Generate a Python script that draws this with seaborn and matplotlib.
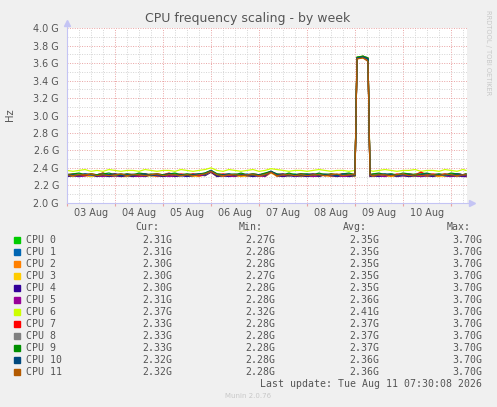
import matplotlib
matplotlib.use('Agg')
import matplotlib.pyplot as plt
import matplotlib.transforms as mtransforms
from matplotlib.ticker import MultipleLocator, FuncFormatter
import seaborn as sns
import pandas as pd

# ---------------- data ----------------
# hours since 03 Aug 00:00
hours = [0, 3, 6, 9, 12, 15, 18, 21, 24, 27,
         30, 33, 36, 39, 42, 45, 48, 51, 54, 57,
         60, 63, 66, 69, 72, 75, 78, 81, 84, 87,
         90, 93, 96, 99, 102, 105, 108, 111, 114, 117,
         120, 123, 126, 129, 132, 135, 138, 141, 144, 145,
         148, 150.5, 151.5, 153, 156, 159, 162, 165, 168, 171,
         174, 177, 180, 183, 186, 189, 192, 195, 198, 199.5]

cpu0 = [2.32, 2.31, 2.33, 2.32, 2.31, 2.32, 2.34, 2.31, 2.32, 2.33,
        2.31, 2.32, 2.32, 2.31, 2.33, 2.32, 2.31, 2.32, 2.33, 2.31,
        2.32, 2.32, 2.31, 2.33, 2.36, 2.32, 2.31, 2.32, 2.33, 2.31,
        2.32, 2.32, 2.31, 2.33, 2.35, 2.32, 2.31, 2.32, 2.33, 2.31,
        2.32, 2.31, 2.32, 2.33, 2.32, 2.31, 2.32, 2.32, 2.31, 3.66,
        3.68, 3.65, 2.32, 2.31, 2.32, 2.33, 2.31, 2.32, 2.32, 2.31,
        2.33, 2.32, 2.31, 2.32, 2.32, 2.31, 2.33, 2.32, 2.31, 2.31]
cpu1 = [2.31, 2.32, 2.31, 2.33, 2.32, 2.31, 2.32, 2.31, 2.33, 2.32,
        2.32, 2.31, 2.33, 2.32, 2.31, 2.31, 2.32, 2.33, 2.31, 2.32,
        2.31, 2.33, 2.32, 2.34, 2.37, 2.33, 2.32, 2.31, 2.32, 2.31,
        2.33, 2.31, 2.32, 2.33, 2.36, 2.31, 2.32, 2.31, 2.32, 2.33,
        2.31, 2.32, 2.33, 2.31, 2.32, 2.32, 2.31, 2.33, 2.32, 3.66,
        3.67, 3.64, 2.31, 2.32, 2.31, 2.32, 2.33, 2.31, 2.32, 2.31,
        2.32, 2.31, 2.33, 2.32, 2.31, 2.32, 2.31, 2.33, 2.32, 2.31]
cpu2 = [2.30, 2.31, 2.32, 2.31, 2.30, 2.32, 2.31, 2.31, 2.30, 2.32,
        2.31, 2.30, 2.31, 2.32, 2.31, 2.30, 2.31, 2.32, 2.30, 2.31,
        2.32, 2.31, 2.30, 2.32, 2.35, 2.31, 2.30, 2.31, 2.32, 2.30,
        2.31, 2.32, 2.30, 2.31, 2.35, 2.30, 2.31, 2.32, 2.31, 2.30,
        2.31, 2.30, 2.32, 2.31, 2.30, 2.31, 2.32, 2.30, 2.31, 3.65,
        3.67, 3.63, 2.31, 2.30, 2.31, 2.32, 2.30, 2.31, 2.31, 2.30,
        2.31, 2.32, 2.30, 2.31, 2.30, 2.32, 2.31, 2.30, 2.31, 2.30]
cpu3 = [2.31, 2.30, 2.31, 2.32, 2.30, 2.31, 2.30, 2.32, 2.31, 2.30,
        2.30, 2.31, 2.32, 2.30, 2.31, 2.32, 2.30, 2.31, 2.30, 2.32,
        2.31, 2.30, 2.32, 2.31, 2.35, 2.30, 2.31, 2.32, 2.30, 2.31,
        2.30, 2.31, 2.32, 2.30, 2.34, 2.31, 2.30, 2.31, 2.32, 2.30,
        2.32, 2.31, 2.30, 2.32, 2.31, 2.30, 2.31, 2.31, 2.30, 3.65,
        3.66, 3.64, 2.30, 2.31, 2.32, 2.30, 2.31, 2.30, 2.32, 2.31,
        2.30, 2.31, 2.32, 2.30, 2.31, 2.30, 2.32, 2.31, 2.31, 2.30]
cpu4 = [2.30, 2.31, 2.30, 2.31, 2.32, 2.30, 2.31, 2.30, 2.31, 2.30,
        2.31, 2.30, 2.31, 2.30, 2.32, 2.31, 2.30, 2.31, 2.30, 2.31,
        2.30, 2.31, 2.32, 2.31, 2.35, 2.30, 2.31, 2.30, 2.31, 2.32,
        2.31, 2.30, 2.31, 2.32, 2.36, 2.31, 2.30, 2.31, 2.30, 2.31,
        2.30, 2.31, 2.30, 2.32, 2.31, 2.30, 2.31, 2.30, 2.31, 3.66,
        3.67, 3.65, 2.30, 2.31, 2.30, 2.31, 2.32, 2.30, 2.31, 2.30,
        2.31, 2.30, 2.31, 2.30, 2.32, 2.31, 2.30, 2.31, 2.30, 2.30]
cpu5 = [2.31, 2.32, 2.30, 2.31, 2.32, 2.31, 2.30, 2.32, 2.31, 2.31,
        2.32, 2.31, 2.30, 2.31, 2.32, 2.31, 2.32, 2.30, 2.31, 2.32,
        2.31, 2.32, 2.31, 2.32, 2.36, 2.31, 2.32, 2.31, 2.30, 2.32,
        2.31, 2.32, 2.31, 2.30, 2.35, 2.32, 2.31, 2.32, 2.31, 2.31,
        2.32, 2.30, 2.31, 2.32, 2.31, 2.32, 2.30, 2.31, 2.32, 3.66,
        3.68, 3.66, 2.31, 2.32, 2.31, 2.30, 2.32, 2.31, 2.31, 2.32,
        2.31, 2.30, 2.32, 2.31, 2.32, 2.31, 2.30, 2.32, 2.31, 2.31]
cpu6 = [2.37, 2.36, 2.37, 2.38, 2.36, 2.37, 2.36, 2.38, 2.37, 2.36,
        2.37, 2.37, 2.36, 2.38, 2.37, 2.36, 2.37, 2.37, 2.36, 2.38,
        2.37, 2.36, 2.37, 2.38, 2.40, 2.37, 2.36, 2.38, 2.37, 2.36,
        2.37, 2.38, 2.36, 2.37, 2.39, 2.38, 2.37, 2.36, 2.37, 2.37,
        2.36, 2.37, 2.38, 2.37, 2.36, 2.37, 2.37, 2.36, 2.37, 3.67,
        3.68, 3.66, 2.37, 2.36, 2.37, 2.38, 2.37, 2.36, 2.37, 2.37,
        2.38, 2.36, 2.37, 2.37, 2.36, 2.38, 2.37, 2.36, 2.38, 2.37]
cpu7 = [2.32, 2.33, 2.32, 2.31, 2.33, 2.32, 2.34, 2.32, 2.33, 2.31,
        2.33, 2.32, 2.31, 2.33, 2.32, 2.33, 2.32, 2.34, 2.32, 2.33,
        2.32, 2.33, 2.32, 2.33, 2.36, 2.32, 2.33, 2.32, 2.31, 2.33,
        2.32, 2.33, 2.32, 2.33, 2.35, 2.32, 2.33, 2.31, 2.32, 2.33,
        2.32, 2.33, 2.32, 2.31, 2.33, 2.32, 2.33, 2.32, 2.33, 3.66,
        3.67, 3.64, 2.33, 2.32, 2.33, 2.32, 2.31, 2.33, 2.32, 2.33,
        2.32, 2.35, 2.32, 2.33, 2.32, 2.33, 2.31, 2.33, 2.32, 2.33]
cpu8 = [2.33, 2.32, 2.32, 2.33, 2.31, 2.32, 2.33, 2.32, 2.31, 2.33,
        2.32, 2.33, 2.32, 2.31, 2.33, 2.32, 2.32, 2.33, 2.32, 2.31,
        2.33, 2.32, 2.33, 2.32, 2.36, 2.33, 2.32, 2.32, 2.33, 2.32,
        2.32, 2.33, 2.32, 2.32, 2.35, 2.33, 2.32, 2.33, 2.31, 2.32,
        2.33, 2.32, 2.32, 2.33, 2.32, 2.31, 2.33, 2.32, 2.32, 3.66,
        3.67, 3.65, 2.32, 2.33, 2.32, 2.32, 2.33, 2.31, 2.32, 2.33,
        2.32, 2.33, 2.32, 2.32, 2.33, 2.31, 2.32, 2.33, 2.32, 2.33]
cpu9 = [2.32, 2.33, 2.34, 2.32, 2.33, 2.32, 2.33, 2.34, 2.32, 2.32,
        2.33, 2.32, 2.34, 2.33, 2.32, 2.33, 2.32, 2.33, 2.34, 2.32,
        2.33, 2.32, 2.33, 2.34, 2.37, 2.33, 2.32, 2.33, 2.32, 2.34,
        2.32, 2.33, 2.32, 2.34, 2.36, 2.33, 2.32, 2.34, 2.32, 2.33,
        2.33, 2.32, 2.34, 2.32, 2.33, 2.32, 2.33, 2.34, 2.32, 3.67,
        3.68, 3.66, 2.32, 2.33, 2.34, 2.32, 2.33, 2.32, 2.34, 2.33,
        2.32, 2.33, 2.34, 2.32, 2.33, 2.32, 2.34, 2.33, 2.32, 2.33]
cpu10 = [2.31, 2.32, 2.31, 2.33, 2.32, 2.31, 2.32, 2.32, 2.33, 2.31,
         2.32, 2.31, 2.32, 2.33, 2.31, 2.32, 2.31, 2.33, 2.32, 2.32,
         2.31, 2.32, 2.33, 2.32, 2.37, 2.31, 2.32, 2.33, 2.31, 2.32,
         2.32, 2.31, 2.32, 2.31, 2.36, 2.32, 2.33, 2.31, 2.32, 2.31,
         2.32, 2.33, 2.31, 2.32, 2.32, 2.31, 2.33, 2.32, 2.31, 3.66,
         3.67, 3.65, 2.32, 2.31, 2.32, 2.33, 2.32, 2.31, 2.32, 2.32,
         2.31, 2.32, 2.33, 2.31, 2.32, 2.32, 2.31, 2.33, 2.32, 2.32]
cpu11 = [2.32, 2.31, 2.32, 2.32, 2.33, 2.31, 2.32, 2.31, 2.32, 2.33,
         2.31, 2.32, 2.32, 2.31, 2.32, 2.33, 2.31, 2.32, 2.32, 2.31,
         2.32, 2.31, 2.32, 2.33, 2.36, 2.32, 2.31, 2.32, 2.32, 2.31,
         2.32, 2.32, 2.31, 2.32, 2.35, 2.31, 2.32, 2.32, 2.31, 2.32,
         2.31, 2.32, 2.32, 2.31, 2.32, 2.33, 2.31, 2.32, 2.32, 3.65,
         3.66, 3.62, 2.32, 2.31, 2.32, 2.32, 2.31, 2.32, 2.33, 2.31,
         2.32, 2.31, 2.32, 2.32, 2.31, 2.33, 2.32, 2.31, 2.32, 2.32]

series = [cpu0, cpu1, cpu2, cpu3, cpu4, cpu5, cpu6, cpu7, cpu8, cpu9, cpu10, cpu11]
names = ['CPU 0', 'CPU 1', 'CPU 2', 'CPU 3', 'CPU 4', 'CPU 5',
         'CPU 6', 'CPU 7', 'CPU 8', 'CPU 9', 'CPU 10', 'CPU 11']
colors = ['#00CC00', '#0066B3', '#FF8000', '#FFCC00', '#330099', '#990099',
          '#CCFF00', '#FF0000', '#808080', '#008F00', '#00487D', '#B35A00']

cur_vals = ['2.31G', '2.31G', '2.30G', '2.30G', '2.30G', '2.31G',
            '2.37G', '2.33G', '2.33G', '2.33G', '2.32G', '2.32G']
min_vals = ['2.27G', '2.28G', '2.28G', '2.27G', '2.28G', '2.28G',
            '2.32G', '2.28G', '2.28G', '2.28G', '2.28G', '2.28G']
avg_vals = ['2.35G', '2.35G', '2.35G', '2.35G', '2.35G', '2.36G',
            '2.41G', '2.37G', '2.37G', '2.37G', '2.36G', '2.36G']
max_vals = ['3.70G'] * 12

day_labels = ['03 Aug', '04 Aug', '05 Aug', '06 Aug', '07 Aug', '08 Aug', '09 Aug', '10 Aug']
day_centers = [12, 36, 60, 84, 108, 132, 156, 180]

title = 'CPU frequency scaling - by week'
ylabel = 'Hz'
last_update = 'Last update: Tue Aug 11 07:30:08 2026'
footer = 'Munin 2.0.76'
side_text = 'RRDTOOL / TOBI OETIKER'

# ---------------- figure ----------------
W, H = 497, 407
TXT = '#555555'
BG = '#F0F0F0'
AXC = '#C4C4F4'

fig = plt.figure(figsize=(W / 100, H / 100), dpi=100, facecolor=BG)
ax = fig.add_axes([67 / W, 1 - 202.7 / H, 400 / W, 174.4 / H])
ax.set_facecolor('white')

rows = []
for name, vals in zip(names, series):
    for h, v in zip(hours, vals):
        rows.append({'hour': h, 'ghz': v, 'cpu': name})
df = pd.DataFrame(rows)

sns.lineplot(data=df, x='hour', y='ghz', hue='cpu', hue_order=names,
             palette=colors, linewidth=0.9, legend=False, ax=ax,
             estimator=None, errorbar=None, sort=True)

ax.set_xlim(0, 200)
ax.set_ylim(2.0, 4.0)
ax.xaxis.set_major_locator(MultipleLocator(24))
ax.xaxis.set_minor_locator(MultipleLocator(6))
ax.yaxis.set_major_locator(MultipleLocator(0.2))
ax.yaxis.set_minor_locator(MultipleLocator(0.1))
ax.grid(which='minor', color='#D4D4D4', linestyle=(0, (1, 1.5)), linewidth=0.7)
ax.grid(which='major', color='#E9A3A3', linestyle=(0, (1, 1.5)), linewidth=0.7)
ax.set_axisbelow(True)

ax.yaxis.set_major_formatter(FuncFormatter(lambda v, p: f'{v:.1f} G'))
ax.set_xticklabels([])
ax.tick_params(axis='y', which='both', length=0, pad=5.8, labelsize=6.9, labelcolor=TXT)
ax.tick_params(axis='x', which='major', length=2.5, color='#E9A3A3', direction='out')
ax.tick_params(axis='x', which='minor', length=0)
ax.set_xlabel('')
ax.set_ylabel('')
for s in ax.spines.values():
    s.set_visible(False)

# axis lines with arrows
ax.plot([0, 0], [0, 1 + 6 / 174.4], color=AXC, lw=0.8, transform=ax.transAxes, clip_on=False)
ax.plot([0, 1 + 5 / 400], [0, 0], color=AXC, lw=0.8, transform=ax.transAxes, clip_on=False)
ax.plot([0], [1 + 5 / 174.4], marker='^', ms=4, color=AXC, transform=ax.transAxes, clip_on=False)
ax.plot([1 + 5 / 400], [0], marker='>', ms=4, color=AXC, transform=ax.transAxes, clip_on=False)

trans = mtransforms.blended_transform_factory(ax.transData, fig.transFigure)
for lab, c in zip(day_labels, day_centers):
    ax.text(c, 1 - 212.5 / H, lab, transform=trans, ha='center', va='center',
            fontsize=6.9, color=TXT)

fig.text(248 / W, 1 - 18.5 / H, title, ha='center', va='center', fontsize=9, color=TXT)
fig.text(10 / W, 1 - 115 / H, ylabel, ha='center', va='center', rotation=90, fontsize=7.2, color=TXT)
fig.text(487.7 / W, 1 - 53 / H, side_text, ha='center', va='center', rotation=270,
         fontsize=4.8, color='#C8C8C8')

# legend
mono = 'DejaVu Sans Mono'
FS = 7.1
hy = 227.3
for txt, xr in zip(['Cur:', 'Min:', 'Avg:', 'Max:'], [159.3, 263.0, 366.7, 470.3]):
    fig.text(xr / W, 1 - hy / H, txt, ha='right', va='center', family=mono, fontsize=FS, color=TXT)

for i, name in enumerate(names):
    y = 240 + 12 * i
    fig.patches.append(plt.Rectangle((14 / W, 1 - (y + 3) / H), 6 / W, 6 / H,
                                     transform=fig.transFigure, color=colors[i]))
    fig.text(26.3 / W, 1 - y / H, name, ha='left', va='center', family=mono, fontsize=FS, color=TXT)
    for vals, xr in zip([cur_vals, min_vals, avg_vals, max_vals], [172.0, 275.3, 379.0, 482.7]):
        fig.text(xr / W, 1 - y / H, vals[i], ha='right', va='center', family=mono, fontsize=FS, color=TXT)

fig.text(482.5 / W, 1 - 383.7 / H, last_update, ha='right', va='center', family=mono, fontsize=FS, color=TXT)
fig.text(248 / W, 1 - 395.7 / H, footer, ha='center', va='center', fontsize=5, color='#C8C8C8')

fig.savefig('out.png', dpi=100, facecolor=BG)
